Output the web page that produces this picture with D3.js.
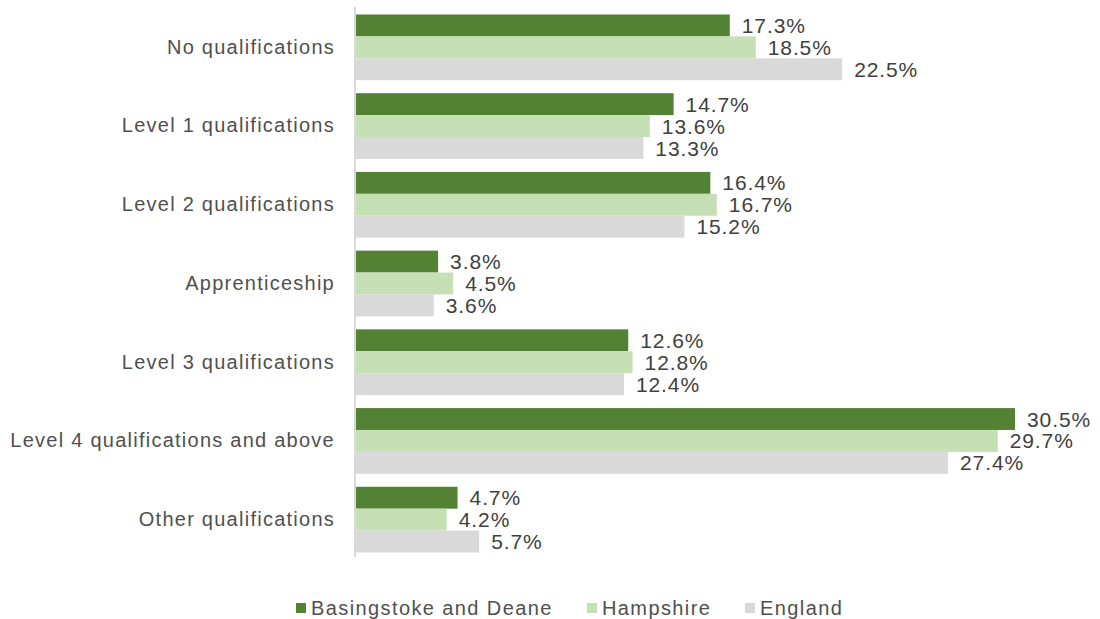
<!DOCTYPE html>
<html>
<head>
<meta charset="utf-8">
<script src="https://cdn.jsdelivr.net/npm/d3@7"></script>
<style>
  body { margin: 0; background: #fff; }
  svg text { font-family: "Liberation Sans", Arial, sans-serif; }
</style>
</head>
<body>
<svg id="chart" width="1100" height="619"></svg>
<script>
// Highest level of qualification, share of residents aged 16+
const categories = [
  "No qualifications",
  "Level 1 qualifications",
  "Level 2 qualifications",
  "Apprenticeship",
  "Level 3 qualifications",
  "Level 4 qualifications and above",
  "Other qualifications"
];
const seriesNames = ["Basingstoke and Deane", "Hampshire", "England"];
const basingstoke = [17.3, 14.7, 16.4, 3.8, 12.6, 30.5, 4.7];
const hampshire   = [18.5, 13.6, 16.7, 4.5, 12.8, 29.7, 4.2];
const england     = [22.5, 13.3, 15.2, 3.6, 12.4, 27.4, 5.7];
const seriesColors = ["#548235", "#C5E0B4", "#D9D9D9"];

const seriesValues = [basingstoke, hampshire, england];

const svg = d3.select("#chart");
const plotLeft = 355, plotTop = 8, plotBottom = 559;

const x = d3.scaleLinear().domain([0, 30.5]).range([plotLeft, 1014]);
const y = d3.scaleBand().domain(categories).range([plotTop, plotBottom]).paddingInner(0.165).paddingOuter(0.0825);
const ys = d3.scaleBand().domain(seriesNames).range([0, y.bandwidth()]);

const rows = categories.map((c, i) => ({
  cat: c,
  vals: seriesNames.map((s, j) => ({ s, j, v: seriesValues[j][i] }))
}));

const g = svg.append("g");
const groups = g.selectAll("g.cat").data(rows).join("g")
  .attr("transform", d => `translate(0,${y(d.cat)})`);

groups.selectAll("rect").data(d => d.vals).join("rect")
  .attr("x", x(0) + 1)
  .attr("y", d => ys(d.s))
  .attr("width", d => x(d.v) - x(0))
  .attr("height", ys.bandwidth())
  .attr("fill", d => seriesColors[d.j]);

groups.selectAll("text.val").data(d => d.vals).join("text")
  .attr("class", "val")
  .attr("x", d => x(d.v) + 13)
  .attr("y", d => ys(d.s) + ys.bandwidth() / 2)
  .attr("dy", "0.36em")
  .attr("fill", "#404040")
  .style("font-size", "21px")
  .style("letter-spacing", "0.9px")
  .text(d => d.v.toFixed(1) + "%");

// category axis
const yAxis = d3.axisLeft(y).tickSize(0).tickPadding(20);
const ax = svg.append("g").attr("transform", `translate(${plotLeft},0)`).call(yAxis);
ax.select(".domain").attr("stroke", "#D9D9D9").attr("stroke-width", 2)
  .attr("d", `M0,7V557`);
ax.selectAll(".tick text")
  .style("font-size", "20px")
  .style("letter-spacing", "1.25px")
  .style("font-family", "'Liberation Sans', Arial, sans-serif")
  .attr("fill", "#505050");

// legend
const legendX = [296, 587, 745];
const lg = svg.append("g").selectAll("g").data(seriesNames).join("g")
  .attr("transform", (d, i) => `translate(${legendX[i]},608)`);
lg.append("rect").attr("x", 0).attr("y", -5).attr("width", 10).attr("height", 10)
  .attr("fill", (d, i) => seriesColors[i]);
lg.append("text").attr("x", 15).attr("dy", "0.36em")
  .attr("fill", "#505050")
  .style("font-size", "20px")
  .style("letter-spacing", "1.4px")
  .text(d => d);
</script>
</body>
</html>
